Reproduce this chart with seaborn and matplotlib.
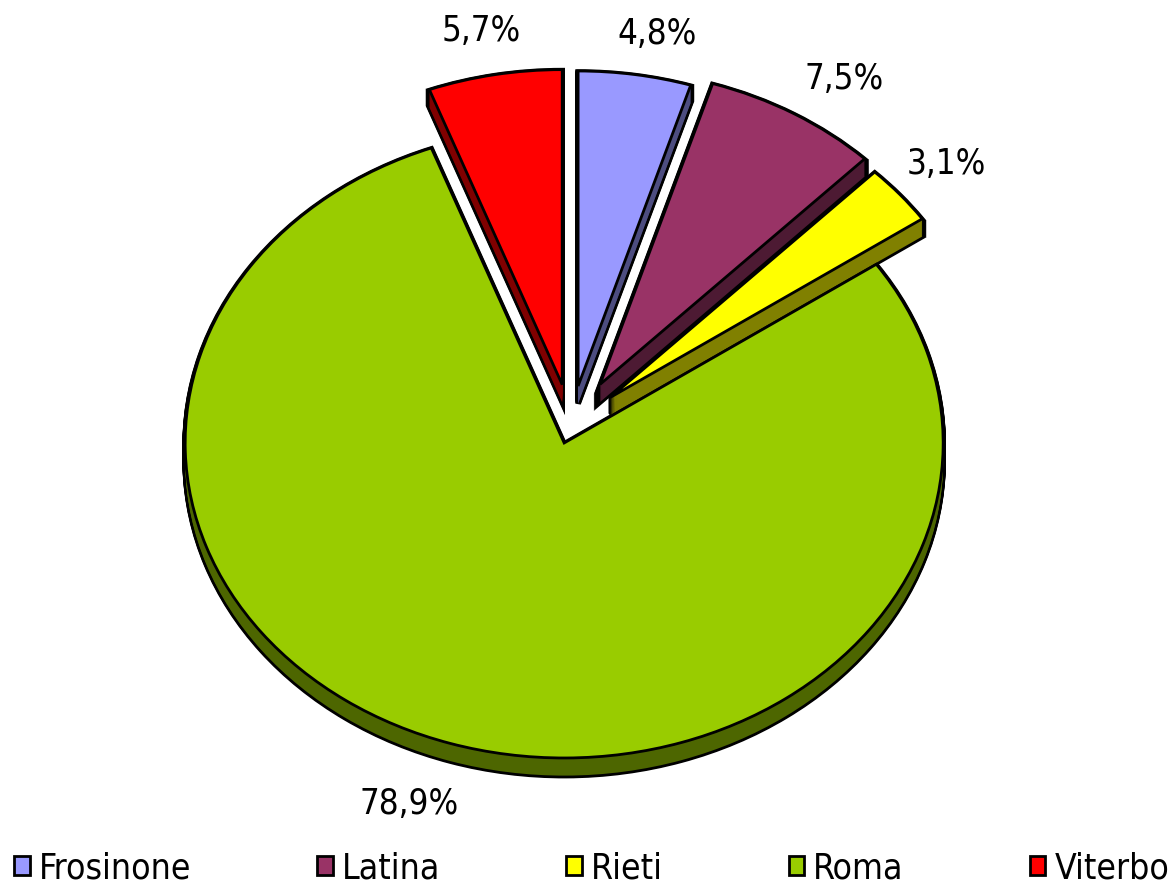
import numpy as np
import matplotlib
matplotlib.use("Agg")
import matplotlib.pyplot as plt
import seaborn as sns
from matplotlib.patches import Patch

# Share of the regional total by province (%)
provinces = ["Frosinone", "Latina", "Rieti", "Roma", "Viterbo"]
shares = [4.8, 7.5, 3.1, 78.9, 5.7]

top_colors = ["#9999FF", "#993366", "#FFFF00", "#99CC00", "#FF0000"]
side_colors = ["#4D4D80", "#4D1A33", "#808000", "#4D6600", "#800000"]
explode = [0.125, 0.15, 0.135, 0.06, 0.13]

sns.set_theme(style="white")
plt.rcParams["font.family"] = ["DejaVu Sans"]
plt.rcParams["font.stretch"] = "condensed"
plt.rcParams["text.color"] = "black"

fig = plt.figure(figsize=(11.72, 8.88), dpi=100)
ax = fig.add_axes([0, 0, 1, 1])

pie_kw = dict(startangle=90, counterclock=False, explode=explode)
depth = 0.056
n_layers = 18
offsets = [depth * k / n_layers for k in range(n_layers, 0, -1)]

# extruded side walls: a black silhouette first, then the coloured body
for dy in offsets:
    ax.pie(shares, colors=side_colors, center=(0, -dy),
           wedgeprops=dict(edgecolor="black", linewidth=4.0), **pie_kw)
for dy in offsets:
    ax.pie(shares, colors=side_colors, center=(0, -dy),
           wedgeprops=dict(linewidth=0), **pie_kw)

# top faces with percentage labels
def pct_label(p):
    return f"{p:.1f}%".replace(".", ",")

wedges, _, autotexts = ax.pie(
    shares, colors=top_colors, autopct=pct_label, pctdistance=1.2,
    wedgeprops=dict(edgecolor="black", linewidth=2.0),
    textprops=dict(fontsize=25, color="black"), **pie_kw)

# push labels out from each slice (the pie is flattened, so x and y reach differ)
label_reach = [(1.38, 1.13), (1.26, 1.13), (1.16, 1.15), (1.36, 1.20), (1.20, 1.14)]
cum = np.cumsum([0] + shares[:-1])
for i, (txt, w) in enumerate(zip(autotexts, wedges)):
    theta = np.deg2rad(90 - 360 * (cum[i] + shares[i] / 2) / 100)
    cx, cy = w.center
    kx, ky = label_reach[i]
    txt.set_position((cx + kx * np.cos(theta), cy + ky * np.sin(theta)))
    txt.set_ha("center")
    txt.set_va("center")

ax.set_aspect("auto")
ax.set_xlim(-1.5066, 1.5858)
ax.set_ylim(-1.47, 1.349)
ax.axis("off")

handles = [Patch(facecolor=c, edgecolor="black", linewidth=2.0) for c in top_colors]
fig.legend(handles, provinces, loc="center left", bbox_to_anchor=(0.012, 0.022),
           ncol=5, frameon=False, fontsize=25.5, labelcolor="black",
           handlelength=0.45, handleheight=0.45,
           handletextpad=0.25, columnspacing=3.55, borderpad=0, borderaxespad=0)

fig.savefig("out.png", dpi=100, facecolor="white")
